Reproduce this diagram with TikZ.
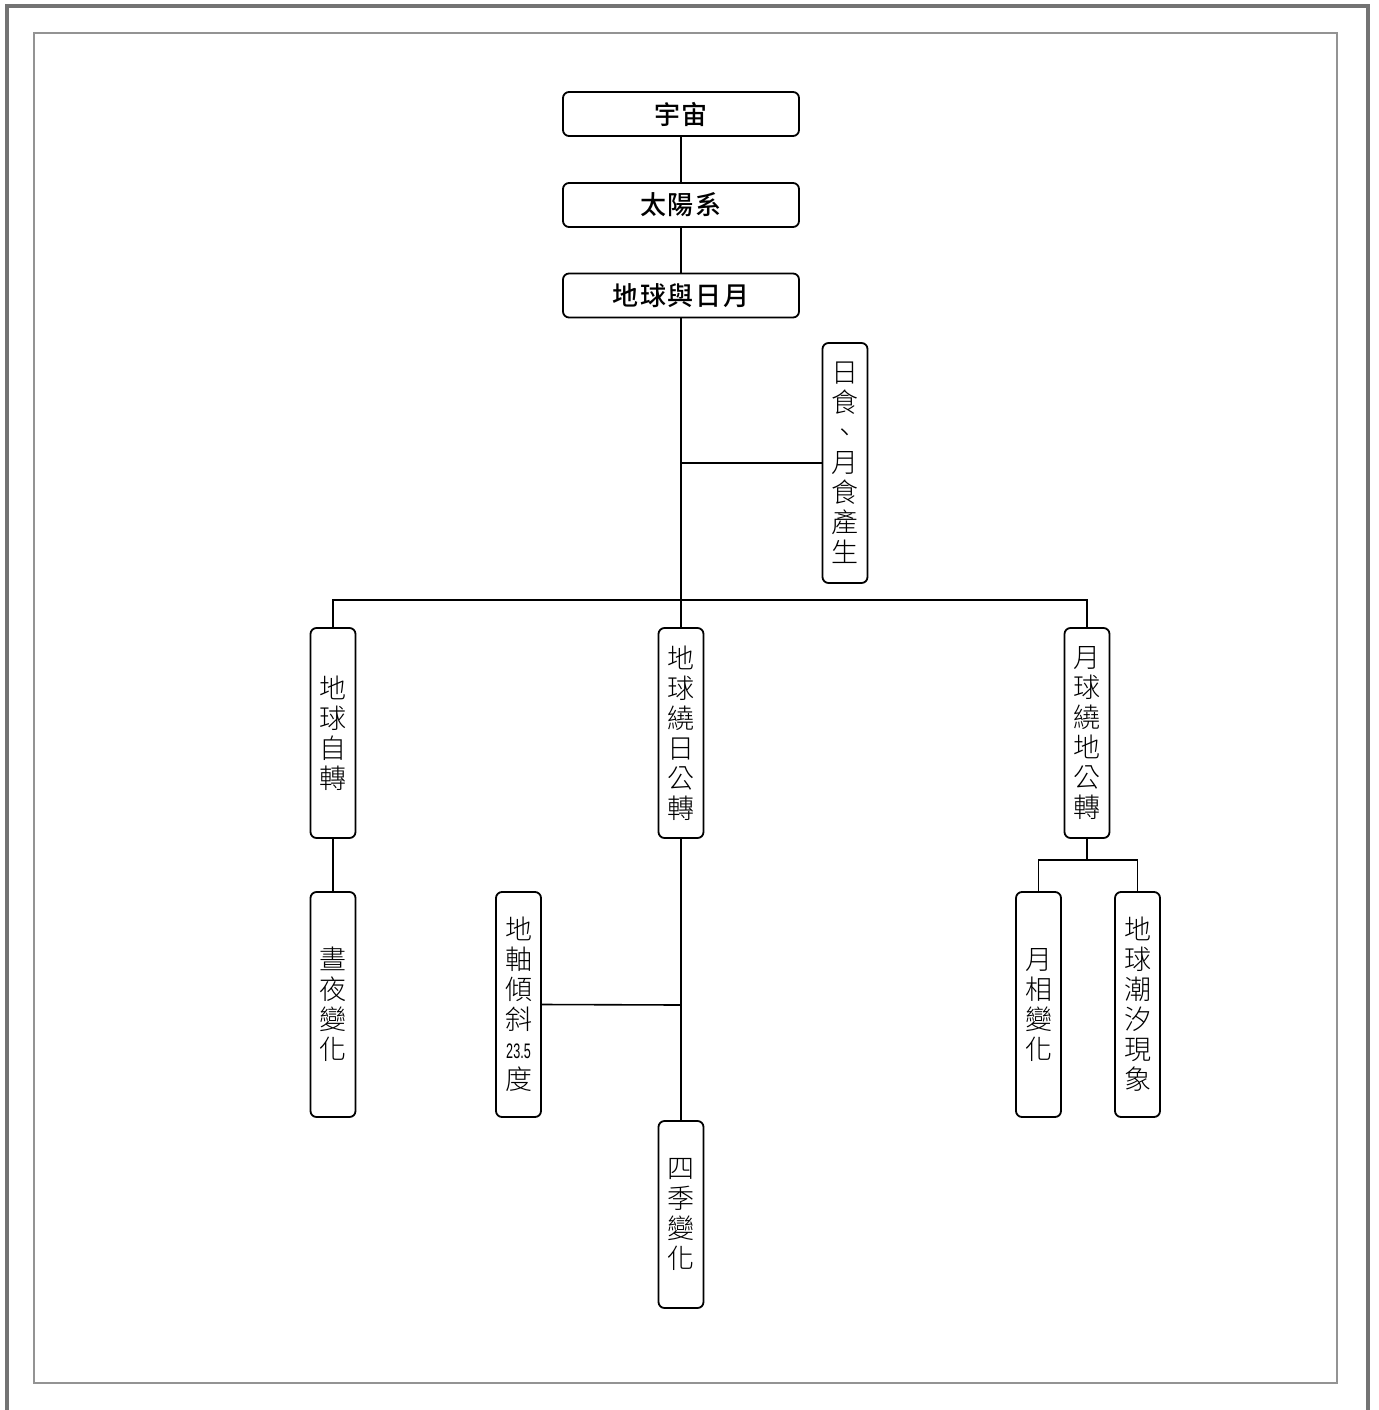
\documentclass[tikz,border=0pt]{standalone}
\usepackage{fontspec}
\newfontfamily\cjkm{Noto Sans CJK TC Medium}[LetterSpace=6]
\newfontfamily\cjkl{Noto Sans CJK TC Light}
\usetikzlibrary{positioning}
\begin{document}
\begin{tikzpicture}[x=1pt,y=-1pt,
  hbox/.style={draw,line width=1.8pt,rounded corners=6pt,minimum width=236pt,minimum height=44pt,inner sep=0pt,font=\cjkm\fontsize{26}{28}\selectfont},
  vbox/.style={draw,line width=1.8pt,rounded corners=6pt,minimum width=45pt,inner sep=0pt,align=center,font=\cjkl\fontsize{27}{30}\selectfont},
  conn/.style={line width=1.6pt}]
\useasboundingbox (0,0) rectangle (1378,1410);
\begin{scope}
\clip (0,0) rectangle (1378,1410);
\draw[line width=4pt,color=gray!90!black] (6.5,6.5) rectangle (1367.5,1430);
\end{scope}
\draw[line width=2pt,color=gray!85] (34,33) rectangle (1337,1383);

\node[hbox] (univ) at (681,114) {宇宙};
\node[hbox] (sol) at (681,205) {太陽系};
\node[hbox] (em) at (681,295.5) {地球與日月};

\node[vbox,minimum height=240pt] (ecl) at (845,463) {日\\食\\、\\月\\食\\產\\生};
\node[vbox,minimum height=210pt] (rot) at (333,733) {地\\球\\自\\轉};
\node[vbox,minimum height=210pt] (rev) at (681,733) {地\\球\\繞\\日\\公\\轉};
\node[vbox,minimum height=210pt] (moon) at (1087,733) {月\\球\\繞\\地\\公\\轉};
\node[vbox,minimum height=225pt] (dn) at (333,1004.5) {晝\\夜\\變\\化};
\node[vbox,minimum height=225pt] (tilt) at (518.5,1004.5) {地\\軸\\傾\\斜\\[-1pt]{\fontspec{Liberation Sans}\fontsize{21}{22}\selectfont\scalebox{0.6}[1]{23.5}}\\[1pt]度};
\node[vbox,minimum height=187pt] (season) at (681,1214.5) {四\\季\\變\\化};
\node[vbox,minimum height=225pt] (phase) at (1038.5,1004.5) {月\\相\\變\\化};
\node[vbox,minimum height=225pt] (tide) at (1137.5,1004.5) {地\\球\\潮\\汐\\現\\象};

\coordinate (j1) at (681,463);
\coordinate (bus) at (681,600);
\coordinate (tj) at (681,1005);
\coordinate (mj) at (1087,860);

\draw[conn] (univ) -- (sol);
\draw[conn] (sol) -- (em);
\draw[conn] (em) -- (bus);
\draw[conn] (j1) -- (ecl.west);
\draw[conn] (rot.north) -- (rot.north |- bus) -- (moon.north |- bus) -- (moon.north);
\draw[conn] (bus) -- (rev.north);
\draw[conn] (rot) -- (dn);
\draw[conn] (rev) -- (season);
\draw[conn] (tilt.east) -- (tj);
\draw[conn] (moon) -- (mj);
\draw[conn] (phase.north) -- (phase.north |- mj) -- (tide.north |- mj) -- (tide.north);
\end{tikzpicture}
\end{document}
